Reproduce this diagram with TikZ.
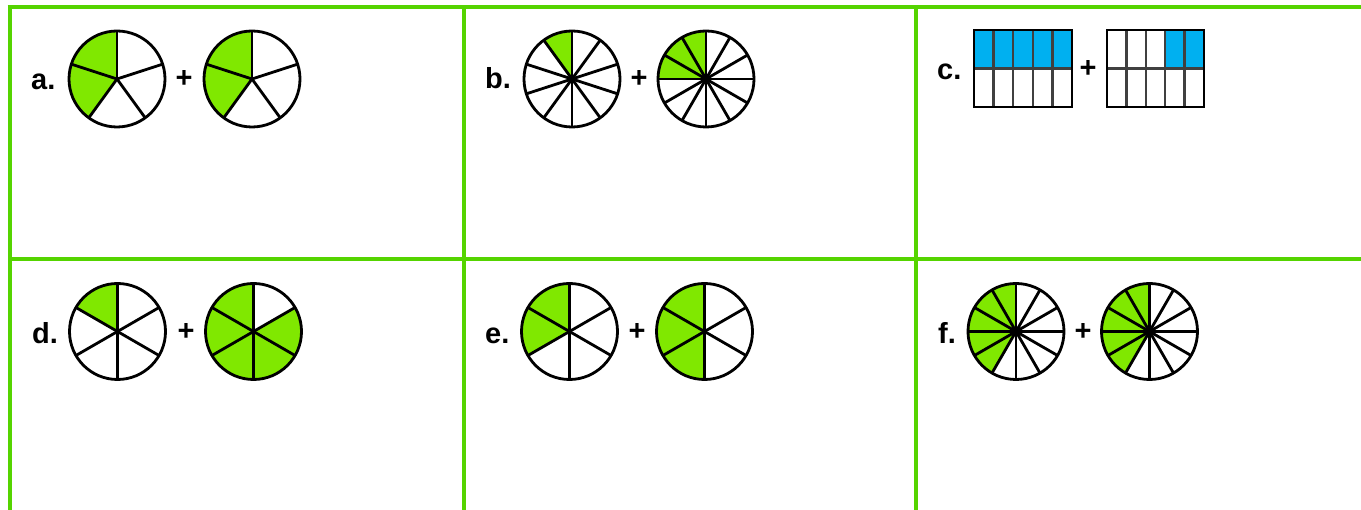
\documentclass[tikz,border=0pt]{standalone}
\usepackage{fontspec}
\setmainfont{Liberation Sans}
\definecolor{gridgreen}{HTML}{55D400}
\definecolor{piegreen}{HTML}{80E800}
\definecolor{barblue}{HTML}{00B0F0}
\tikzset{
  gridline/.style={draw=gridgreen, line width=4pt},
  pieline/.style={draw=black, line width=2.8pt},
  lbl/.style={font=\bfseries\fontsize{29}{32}\selectfont, anchor=base west, inner sep=0pt},
  plus/.style={font=\bfseries\fontsize{29}{32}\selectfont, inner sep=0pt},
  cellline/.style={draw=black!75, line width=2.3pt},
  boxline/.style={draw=black, line width=2.8pt}
}
% pie: center x, center y (pixels, y downward), number of sectors, shaded count
\newcommand\fracpie[4]{%
  \fill[piegreen] (#1pt,-#2pt) -- ++(90:48pt) arc[start angle=90, delta angle={360*#4/#3}, radius=48pt] -- cycle;
  \foreach \i in {1,...,#3} {\draw[pieline] (#1pt,-#2pt) -- ++({90+360*\i/#3}:48pt);}
  \draw[pieline] (#1pt,-#2pt) circle[radius=48pt];
}
% bar: left x, top y, width, height, shaded start col (1-based), shaded end col
\newcommand\fracbar[6]{%
  \foreach \c in {#5,...,#6} {\fill[barblue] ({#1pt+(\c-1)*#3pt/5},-#2pt) rectangle ({#1pt+\c*#3pt/5},{-#2pt-#4pt/2});}
  \foreach \c in {1,...,4} {\draw[cellline] ({#1pt+\c*#3pt/5},-#2pt) -- ({#1pt+\c*#3pt/5},{-#2pt-#4pt});}
  \draw[cellline] (#1pt,{-#2pt-#4pt/2}) -- ({#1pt+#3pt},{-#2pt-#4pt/2});
  \draw[boxline] (#1pt,-#2pt) rectangle ({#1pt+#3pt},{-#2pt-#4pt});
}
\begin{document}
\begin{tikzpicture}
\useasboundingbox (0,0) rectangle (1361pt,-510pt);
% grid
\coordinate (tl) at (9.5pt,-7.5pt);
\coordinate (tr) at (1361pt,-7.5pt);
\coordinate (ml) at (9.5pt,-259.5pt);
\coordinate (mr) at (1361pt,-259.5pt);
\coordinate (b1) at (9.5pt,-510pt);
\coordinate (t2) at (463.5pt,-7.5pt);
\coordinate (b2) at (463.5pt,-510pt);
\coordinate (t3) at (916pt,-7.5pt);
\coordinate (b3) at (916pt,-510pt);
\draw[gridline] ([xshift=-2pt]tl) -- (tr);
\draw[gridline] (ml) -- (mr);
\draw[gridline] (tl) -- (b1);
\draw[gridline] (t2) -- (b2);
\draw[gridline] (t3) -- (b3);
% a
\node[lbl] (la) at (31pt,-90pt) {a.};
\fracpie{117}{79}{5}{2}
\node[plus] (pa) at (184pt,-79pt) {+};
\fracpie{252}{79}{5}{2}
% b
\node[lbl] (lb) at (485pt,-89pt) {b.};
\fracpie{572}{79}{10}{1}
\node[plus] (pb) at (639pt,-79pt) {+};
\fracpie{706}{79}{12}{3}
% c
\node[lbl] (lc) at (937pt,-80pt) {c.};
\fracbar{974}{30}{98}{77}{1}{5}
\node[plus] (pc) at (1088pt,-69pt) {+};
\fracbar{1107}{30}{97}{77}{4}{5}
% d
\node[lbl] (ld) at (32pt,-344pt) {d.};
\fracpie{117.5}{331.5}{6}{1}
\node[plus] (pd) at (186pt,-332pt) {+};
\fracpie{253.5}{331.5}{6}{5}
% e
\node[lbl] (le) at (485pt,-344pt) {e.};
\fracpie{569.5}{331.5}{6}{2}
\node[plus] (pe) at (637pt,-332pt) {+};
\fracpie{704.5}{331.5}{6}{3}
% f
\node[lbl] (lf) at (938pt,-344pt) {f.};
\fracpie{1016}{331.5}{12}{5}
\node[plus] (pf) at (1083pt,-332pt) {+};
\fracpie{1149.5}{331.5}{12}{5}
\end{tikzpicture}
\end{document}
